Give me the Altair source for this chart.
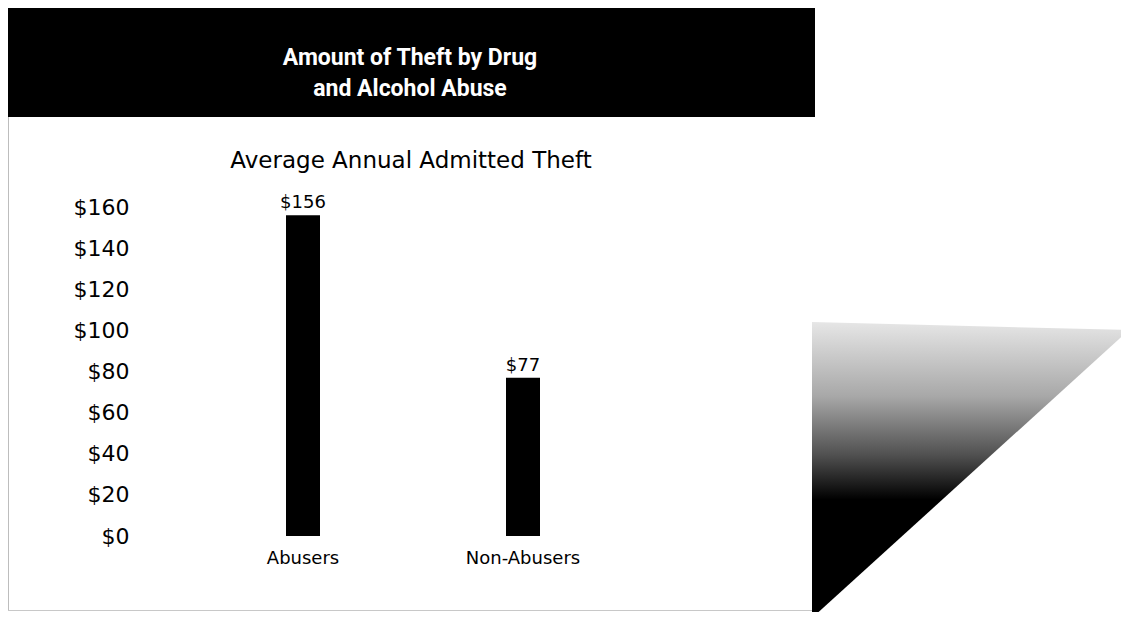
import altair as alt
import pandas as pd

# ---- data ----
categories = ["Abusers", "Non-Abusers"]
theft = [156, 77]
value_labels = ["$156", "$77"]
y_ticks = [0, 20, 40, 60, 80, 100, 120, 140, 160]
title_lines = ["Amount of Theft by Drug", "and Alcohol Abuse"]
subtitle_text = "Average Annual Admitted Theft"

df = pd.DataFrame({"group": categories, "theft": theft, "label": value_labels})
one = pd.DataFrame({"k": [0]})

W, H = 675, 419
PAD = {"left": 127, "top": 110, "right": 311, "bottom": 75}

FONT = "DejaVu Sans"
TFONT = "Roboto"

x_enc = alt.X(
    "group:N",
    sort=categories,
    scale=alt.Scale(domain=categories, range=[58, 498], paddingInner=0, paddingOuter=0),
    axis=alt.Axis(title=None, labelAngle=0, domain=False, ticks=False, grid=False,
                  labelFont=FONT, labelFontSize=18, labelColor="black", labelPadding=12),
)
y_enc = alt.Y(
    "theft:Q",
    scale=alt.Scale(domain=[0, 160], range=[418, 89], nice=False, zero=True),
    axis=alt.Axis(title=None, values=y_ticks, format="$.0f", domain=False, ticks=False,
                  grid=False, labelFont=FONT, labelFontSize=22, labelColor="black",
                  labelPadding=6),
)

banner = alt.Chart(one).mark_rect(color="black").encode(
    x=alt.value(-127), x2=alt.value(680), y=alt.value(-110), y2=alt.value(-1)
)

tri_path = "M -0.9875 -0.925 L 0.994 -0.875 L -0.9875 0.925 Z"
triangle = alt.Chart(one).mark_point(
    shape=tri_path,
    filled=True,
    opacity=1,
    size=102400,
    strokeWidth=0,
    fill=alt.Gradient(
        gradient="linear",
        x1=0, x2=0, y1=0, y2=1,
        stops=[
            alt.GradientStop(offset=0, color="#e6e6e6"),
            alt.GradientStop(offset=0.25, color="#a8a8a8"),
            alt.GradientStop(offset=0.45, color="#505050"),
            alt.GradientStop(offset=0.6, color="#000000"),
            alt.GradientStop(offset=1, color="#000000"),
        ],
    ),
).encode(x=alt.value(835), y=alt.value(352))

border_left = alt.Chart(one).mark_rule(color="#bdbdbd", strokeWidth=1).encode(
    x=alt.value(-126.5), y=alt.value(-1), y2=alt.value(493)
)
border_bottom = alt.Chart(one).mark_rule(color="#c8c8c8", strokeWidth=1).encode(
    x=alt.value(-127), x2=alt.value(677), y=alt.value(492.5)
)

title1 = alt.Chart(one).mark_text(
    text=title_lines[0], font=TFONT, fontWeight="bold",
    fontSize=23, color="white", align="center", baseline="middle"
).encode(x=alt.value(275), y=alt.value(-60))
title2 = alt.Chart(one).mark_text(
    text=title_lines[1], font=TFONT, fontWeight="bold",
    fontSize=23, color="white", align="center", baseline="middle"
).encode(x=alt.value(275), y=alt.value(-29))

subtitle = alt.Chart(one).mark_text(
    text=subtitle_text, font=FONT, fontSize=23, color="black",
    align="center", baseline="middle"
).encode(x=alt.value(276), y=alt.value(43))

bars = alt.Chart(df).mark_bar(size=34, color="black").encode(x=x_enc, y=y_enc)

labels = alt.Chart(df).mark_text(
    font=FONT, fontSize=18, color="black", baseline="bottom", dy=-3
).encode(x=x_enc, y=y_enc, text="label:N")

chart = alt.layer(
    banner, triangle, border_left, border_bottom, title1, title2, subtitle, bars, labels
).properties(
    width=W, height=H, padding=PAD,
    autosize=alt.AutoSizeParams(type="none"),
    background="white",
).configure_view(stroke="transparent")

chart.save("out.html", embed_options={"renderer": "svg", "actions": False})
